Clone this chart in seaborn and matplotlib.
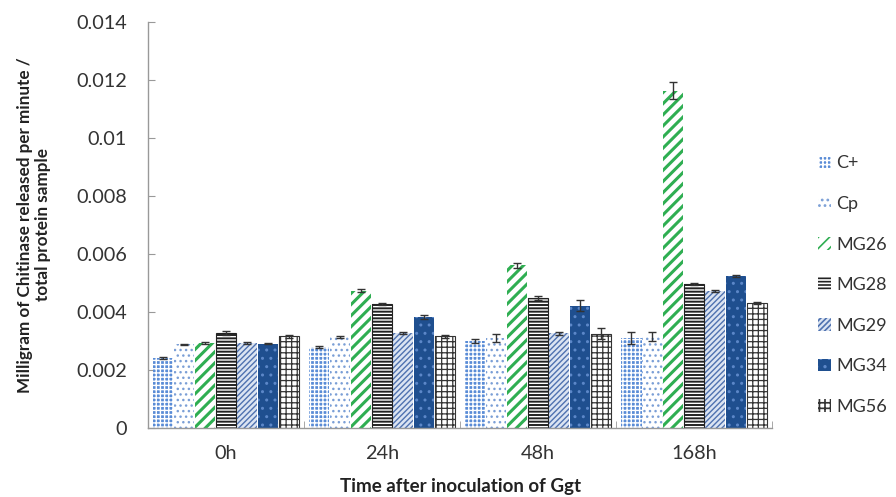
import matplotlib
matplotlib.use("Agg")
import matplotlib.pyplot as plt
import seaborn as sns
import pandas as pd
import numpy as np
from matplotlib.patches import Patch

times = ["0h", "24h", "48h", "168h"]
series = ["C+", "Cp", "MG26", "MG28", "MG29", "MG34", "MG56"]
values = {
    "C+":   [0.00240, 0.00278, 0.00300, 0.00310],
    "Cp":   [0.00288, 0.00314, 0.00310, 0.00315],
    "MG26": [0.00293, 0.00473, 0.00560, 0.01163],
    "MG28": [0.00327, 0.00427, 0.00448, 0.00497],
    "MG29": [0.00293, 0.00327, 0.00327, 0.00472],
    "MG34": [0.00290, 0.00383, 0.00422, 0.00524],
    "MG56": [0.00316, 0.00316, 0.00325, 0.00430],
}
errors = {
    "C+":   [0.00003, 0.00004, 0.00006, 0.00020],
    "Cp":   [0.00003, 0.00004, 0.00015, 0.00014],
    "MG26": [0.00003, 0.00005, 0.00010, 0.00030],
    "MG28": [0.00006, 0.00004, 0.00008, 0.00003],
    "MG29": [0.00003, 0.00004, 0.00005, 0.00004],
    "MG34": [0.00002, 0.00008, 0.00018, 0.00003],
    "MG56": [0.00005, 0.00005, 0.00020, 0.00003],
}

styles = {
    "C+":   dict(face="#5a8cd6", hatch="++++", hcol="#ffffff", hlw=1.0, edge=None),
    "Cp":   dict(face="#ffffff", hatch="...", hcol="#7b9fd6", hlw=1.0, edge=None),
    "MG26": dict(face="#ffffff", hatch="///", hcol="#2fae52", hlw=2.2, edge=None),
    "MG28": dict(face="#ffffff", hatch="-----", hcol="#222222", hlw=1.4, edge="#222222"),
    "MG29": dict(face="#dbe4f2", hatch="//////", hcol="#4f72b0", hlw=1.0, edge=None),
    "MG34": dict(face="#1f4f8f", hatch="..", hcol="#5c87c8", hlw=1.0, edge=None),
    "MG56": dict(face="#ffffff", hatch="+++", hcol="#333333", hlw=0.9, edge="#333333"),
}

rows = []
for s in series:
    for t, v, e in zip(times, values[s], errors[s]):
        rows.append(dict(time=t, series=s, value=v, err=e))
df = pd.DataFrame(rows)

sns.set_style("white")
plt.rcParams["font.family"] = ["Lato", "DejaVu Sans"]
plt.rcParams["hatch.linewidth"] = 1.2

fig = plt.figure(figsize=(8.96, 4.97), dpi=100)
ax = fig.add_axes([0.165, 0.139, 0.697, 0.817])

palette = {s: styles[s]["face"] for s in series}
sns.barplot(data=df, x="time", y="value", hue="series", order=times,
            hue_order=series, palette=palette, width=0.94, gap=0.03,
            errorbar=None, ax=ax, legend=False, saturation=1)


def style_patch(p, st):
    p.set_facecolor(st["face"])
    p.set_edgecolor(st["hcol"])
    p.set_hatch(st["hatch"])
    p.set_linewidth(0)
    if hasattr(p, "set_hatch_linewidth"):
        p.set_hatch_linewidth(st["hlw"])


bar_containers = list(ax.containers)
for ci, cont in enumerate(bar_containers):
    s = series[ci]
    st = styles[s]
    for bi, bar in enumerate(cont):
        style_patch(bar, st)
        if st["edge"]:
            ax.bar(bar.get_x() + bar.get_width() / 2, bar.get_height(),
                   width=bar.get_width(), fill=False, edgecolor=st["edge"],
                   linewidth=0.8, zorder=bar.get_zorder() + 0.1)
        cx = bar.get_x() + bar.get_width() / 2
        ax.errorbar(cx, bar.get_height(), yerr=errors[s][bi], fmt="none",
                    ecolor="#333333", elinewidth=1, capsize=3, capthick=1, zorder=5)

ax.set_ylim(0, 0.014)
ax.set_yticks(np.arange(0, 0.0141, 0.002))
ax.set_yticklabels(["0", "0.002", "0.004", "0.006", "0.008", "0.01", "0.012", "0.014"])
ax.set_xlim(-0.5, 3.5)
ax.tick_params(axis="both", labelsize=14.3, colors="#333333")
ax.tick_params(axis="y", length=5, color="#999999", direction="in", left=True, pad=15)
ax.tick_params(axis="x", which="major", length=0, pad=12)
ax.set_xticks([-0.5, 0.5, 1.5, 2.5, 3.5], minor=True)
ax.tick_params(axis="x", which="minor", length=5, color="#999999", direction="in", bottom=True)

for sp in ["top", "right"]:
    ax.spines[sp].set_visible(False)
for sp in ["left", "bottom"]:
    ax.spines[sp].set_color("#999999")
    ax.spines[sp].set_linewidth(1)

ax.set_xlabel("Time after inoculation of Ggt", fontsize=13.5, fontweight="bold",
              color="#222222", labelpad=12)
ax.set_ylabel("Milligram of Chitinase released per minute /\ntotal protein sample",
              fontsize=12.3, fontweight="bold", color="#222222", labelpad=18)

handles = []
for s in series:
    h = Patch(facecolor=styles[s]["face"], edgecolor=styles[s]["hcol"],
              hatch=styles[s]["hatch"], linewidth=0, label=s)
    handles.append(h)
leg = fig.legend(handles=handles, loc="upper left", bbox_to_anchor=(0.895, 0.72),
                 frameon=False, fontsize=13, handlelength=0.7, handleheight=0.7,
                 handletextpad=0.3, labelspacing=1.36)
for t in leg.get_texts():
    t.set_color("#333333")

fig.savefig("out.png", dpi=100)
